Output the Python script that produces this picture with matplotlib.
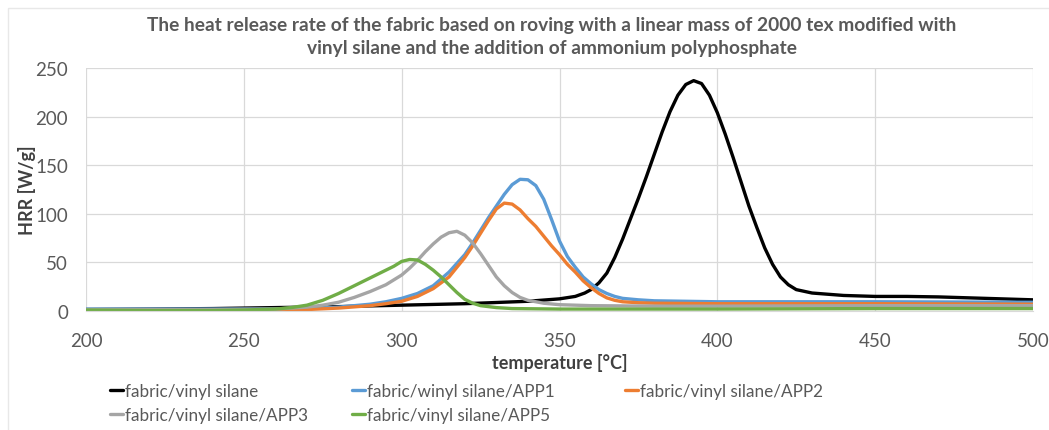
import matplotlib
matplotlib.use("Agg")
import matplotlib.pyplot as plt
from matplotlib.patches import Rectangle

plt.rcParams['font.family'] = ['Lato', 'DejaVu Sans']

# ---------------- data ----------------
t_black = [200, 220, 240, 260, 280, 300, 320, 340, 350, 355, 358, 360, 362.5, 365, 367.5, 370, 372.5,
           375, 377.5, 380, 382.5, 385, 387.5, 390, 392.5, 395, 397.5, 400, 402.5, 405, 407.5,
           410, 412.5, 415, 417.5, 420, 422.5, 425, 430, 440, 450, 460, 470, 480, 490, 500]
hrr_black = [1.5, 2, 2.5, 3.5, 4.5, 6, 7.5, 10, 12.5, 15, 18.5, 22, 29, 39, 55, 74, 95,
             116, 138, 161, 184, 205, 222, 233, 237, 234, 222, 204, 182, 158, 133,
             108, 86, 65, 48, 35, 27, 22, 18.5, 16, 15, 15, 14.5, 13.5, 12.5, 11.5]

t_app1 = [200, 220, 240, 260, 270, 280, 290, 295, 300, 305, 310, 315, 320, 322.5, 325, 327.5,
          330, 332.5, 335, 337.5, 340, 342.5, 345, 347.5, 350, 352.5, 355, 357.5, 360, 362.5,
          365, 367.5, 370, 375, 380, 390, 400, 450, 500]
hrr_app1 = [2, 2, 2, 2, 2.5, 4, 7, 9.5, 13, 18, 26, 40, 58, 70, 83, 96,
            108, 120, 130, 135.5, 135, 129, 115, 94, 72, 56, 45, 35, 28, 22,
            18, 15, 13, 11.5, 10.5, 10, 9.5, 9.5, 9]

t_app2 = [200, 220, 240, 260, 270, 280, 290, 295, 300, 305, 310, 315, 320, 322.5, 325, 327.5,
          330, 332.5, 335, 337.5, 340, 342.5, 345, 347.5, 350, 352.5, 355, 357.5, 360, 362.5,
          365, 367.5, 370, 375, 380, 400, 450, 500]
hrr_app2 = [1, 1, 1, 1, 1.5, 3, 5.5, 7.5, 10, 15, 23, 35, 55, 67, 80, 93,
            105, 111, 110, 104, 95, 87, 77, 67, 58, 48, 40, 31, 24, 18,
            13.5, 11, 9.5, 8.5, 8, 7.5, 7.5, 7]

t_app3 = [200, 220, 240, 260, 265, 270, 275, 280, 285, 290, 295, 300, 302.5, 305, 307.5, 310,
          312.5, 315, 317.5, 320, 322.5, 325, 327.5, 330, 332.5, 335, 337.5, 340, 345, 350,
          360, 380, 400, 450, 500]
hrr_app3 = [1.5, 1.5, 1.5, 2, 3, 4, 6, 9, 14, 20, 27, 37, 44, 52, 61, 69,
            76, 80.5, 82, 78, 70, 59, 47, 35, 26, 19, 14, 11, 8, 6.5,
            5.5, 5, 5, 5.5, 5.5]

t_app5 = [200, 220, 240, 250, 260, 265, 270, 275, 280, 285, 290, 295, 297.5, 300, 302.5, 305,
          307.5, 310, 312.5, 315, 317.5, 320, 322.5, 325, 330, 335, 350, 400, 450, 500]
hrr_app5 = [1, 0.5, 0.5, 1, 2, 3.5, 6, 11, 18, 26, 34, 42, 46, 51, 53, 52.5,
            48, 42, 35, 27, 19, 12, 8, 5.5, 3.5, 2.5, 2, 2, 2.5, 2.5]

series = [
    ("fabric/vinyl silane", t_black, hrr_black, "#000000"),
    ("fabric/winyl silane/APP1", t_app1, hrr_app1, "#5B9BD5"),
    ("fabric/vinyl silane/APP2", t_app2, hrr_app2, "#ED7D31"),
    ("fabric/vinyl silane/APP3", t_app3, hrr_app3, "#A5A5A5"),
    ("fabric/vinyl silane/APP5", t_app5, hrr_app5, "#70AD47"),
]

x_ticks = [200, 250, 300, 350, 400, 450, 500]
y_ticks = [0, 50, 100, 150, 200, 250]

title = ("The heat release rate of the fabric based on roving with a linear mass of 2000 tex modified with\n"
         "vinyl silane and the addition of ammonium polyphosphate")

# ---------------- figure ----------------
W, H = 1049, 431
fig = plt.figure(figsize=(W / 100, H / 100), dpi=100)
fig.patch.set_facecolor("white")
fig.add_artist(Rectangle((8 / W, -0.1), 1.2, 1 - 9 / H + 0.1, transform=fig.transFigure,
                         fill=False, edgecolor="#E8E8E8", lw=1))

left, right, top, bottom = 86, 1033, 69, 312
ax = fig.add_axes([left / W, 1 - bottom / H, (right - left) / W, (bottom - top) / H])

lines = {}
for name, t, v, c in series:
    lines[name], = ax.plot(t, v, color=c, lw=2.4, label=name, solid_capstyle="round",
                           solid_joinstyle="round")

ax.set_xlim(200, 500)
ax.set_ylim(0, 250)
ax.set_xticks(x_ticks)
ax.set_yticks(y_ticks)
ax.grid(True, color="#D9D9D9", lw=0.9)
ax.set_axisbelow(True)
for s in ["top", "right", "left"]:
    ax.spines[s].set_visible(False)
ax.spines["bottom"].set_color("#D9D9D9")
ax.tick_params(length=0, labelsize=13.5, labelcolor="#595959")
ax.tick_params(axis="y", pad=13)
ax.tick_params(axis="x", pad=15)

ax.set_xlabel("temperature [\u00b0C]", fontsize=13, fontweight="bold", color="#404040", labelpad=3)
ax.set_ylabel("HRR [W/g]", fontsize=13, fontweight="bold", color="#404040", labelpad=-1)

fig.text(552 / W, 1 - 37 / H, title, ha="center", va="center", fontsize=13.8,
         fontweight="bold", color="#595959", linespacing=1.4)

cols = [
    (["fabric/vinyl silane", "fabric/vinyl silane/APP3"], 110),
    (["fabric/winyl silane/APP1", "fabric/vinyl silane/APP5"], 352),
    (["fabric/vinyl silane/APP2"], 625),
]
for names, x0 in cols:
    fig.legend([lines[n] for n in names], names, loc="upper left",
               bbox_to_anchor=(x0 / W, 1 - 384 / H), frameon=False, fontsize=12.3,
               labelcolor="#595959", handlelength=0.75, handletextpad=0.12,
               labelspacing=0.45, borderaxespad=0, borderpad=0)

fig.savefig("out.png", dpi=100, facecolor="white")
